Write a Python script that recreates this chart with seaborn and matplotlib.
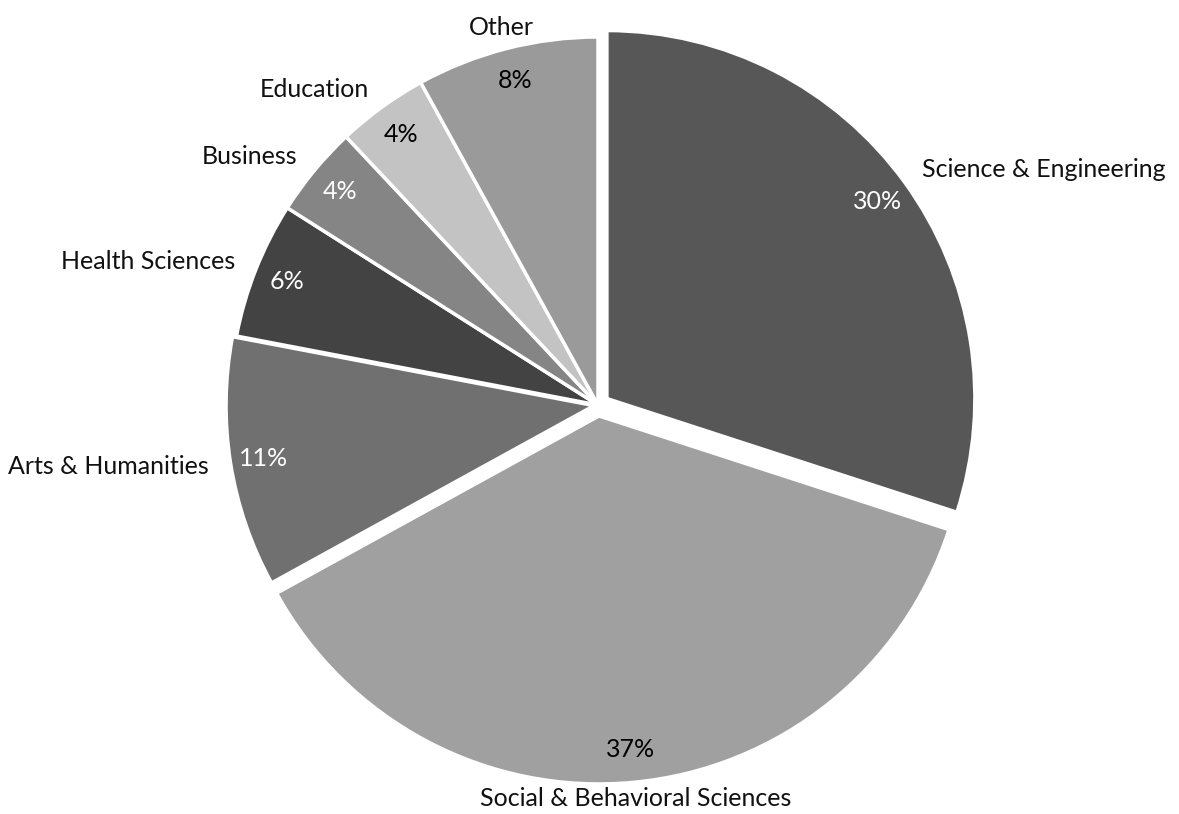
import matplotlib
matplotlib.use("Agg")
import matplotlib.pyplot as plt
import seaborn as sns

sns.set_theme(style="white")
plt.rcParams['font.family'] = ['Lato', 'DejaVu Sans']

# data (clockwise from top)
fields = ['Science & Engineering', 'Social & Behavioral Sciences', 'Arts & Humanities',
          'Health Sciences', 'Business', 'Education', 'Other']
shares = [30, 37, 11, 6, 4, 4, 8]
grays = ['#575757', '#a0a0a0', '#707070', '#434343', '#858585', '#c3c3c3', '#9a9a9a']
pct_colors = ['white', 'black', 'white', 'white', 'white', 'black', 'black']

fig = plt.figure(figsize=(11.79, 8.14), dpi=100)
ax = fig.add_axes([0, 0, 1, 1])

# radius in pixel-like units, so explode offsets are in pixels too
R = 368
explode = [11, 11, 4, 0, 0, 0, 0]

wedges, texts, autotexts = ax.pie(
    shares, labels=fields, colors=grays, explode=explode,
    startangle=90, counterclock=False, radius=R,
    autopct='%1.0f%%', pctdistance=0.91, labeldistance=1.06,
    wedgeprops=dict(edgecolor='white', linewidth=2.5),
    textprops=dict(fontsize=18, color='#111111'))

for t, c in zip(autotexts, pct_colors):
    t.set_color(c)

# bottom and top labels sit centred like in the original
texts[1].set_ha('center')
texts[6].set_ha('center')
# pull the bottom label up a little so it stays inside the figure
bx, by = texts[1].get_position()
texts[1].set_position((bx, by + 6))

ax.set_xlim(-598, 581)
ax.set_ylim(-409, 405)
ax.set_aspect('equal')
ax.axis('off')

fig.savefig('out.png', dpi=100, facecolor='white')
